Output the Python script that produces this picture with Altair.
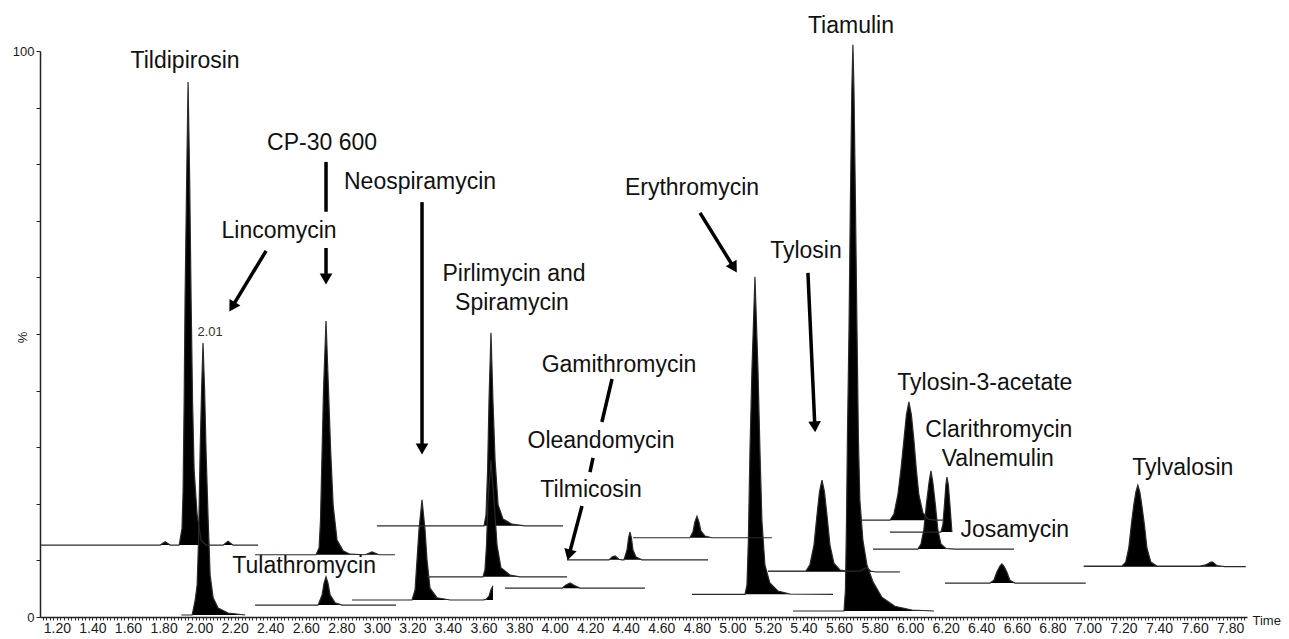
import altair as alt
import pandas as pd

# ---------------- traces (time in min, intensity in %) ----------------
tildipirosin_t = [1.106, 1.781, 1.809, 1.837, 1.888, 1.904, 1.910, 1.916, 1.921, 1.930, 1.938, 1.947, 1.955, 1.963, 1.972, 1.989, 2.011, 2.039, 2.135, 2.163, 2.191, 2.332]
tildipirosin_v = [12.7, 12.7, 13.3, 12.7, 12.7, 15.7, 22.4, 38.3, 56.0, 77.2, 94.5, 77.2, 56.0, 38.3, 26.0, 18.0, 13.6, 12.7, 12.7, 13.4, 12.7, 12.7]
tildipirosin_b = 12.7

lincomycin_t = [1.900, 1.961, 1.978, 1.989, 1.997, 2.006, 2.014, 2.022, 2.031, 2.039, 2.051, 2.062, 2.079, 2.107, 2.163, 2.259]
lincomycin_v = [0.35, 0.35, 3.0, 5.7, 13.6, 29.5, 40.1, 48.4, 40.1, 29.5, 17.1, 7.4, 3.4, 1.6, 0.7, 0.35]
lincomycin_b = 0.35

cp30600_t = [2.315, 2.658, 2.675, 2.683, 2.692, 2.700, 2.714, 2.728, 2.740, 2.754, 2.776, 2.810, 2.849, 2.934, 2.973, 3.012, 3.102]
cp30600_v = [11.0, 11.0, 12.2, 17.1, 29.5, 40.1, 52.3, 40.1, 29.5, 19.8, 13.6, 11.7, 11.1, 11.0, 11.5, 11.0, 11.0]
cp30600_b = 11.0

tulathromycin_t = [2.315, 2.669, 2.692, 2.703, 2.714, 2.725, 2.737, 2.765, 2.804, 3.108]
tulathromycin_v = [2.1, 2.1, 3.9, 6.0, 7.1, 6.0, 3.9, 2.5, 2.1, 2.1]
tulathromycin_b = 2.1

neospiramycin_t = [2.860, 3.198, 3.215, 3.226, 3.237, 3.254, 3.271, 3.282, 3.299, 3.339, 3.412, 3.597, 3.614, 3.631, 3.642, 3.653]
neospiramycin_v = [3.0, 3.0, 4.8, 10.1, 15.4, 20.7, 15.4, 10.1, 5.1, 3.4, 3.0, 3.0, 3.1, 3.7, 4.8, 5.5]
neospiramycin_b = 3.0

pirlimycin_t = [3.001, 3.603, 3.614, 3.623, 3.631, 3.642, 3.653, 3.665, 3.682, 3.710, 3.760, 3.833, 4.047]
pirlimycin_v = [16.1, 16.1, 18.0, 26.0, 38.3, 50.2, 38.3, 27.7, 19.8, 17.3, 16.4, 16.1, 16.1]
pirlimycin_b = 16.1

spiramycin_t = [3.282, 3.597, 3.608, 3.617, 3.625, 3.642, 3.659, 3.676, 3.698, 3.749, 3.805, 4.070]
spiramycin_v = [7.1, 7.1, 8.3, 12.7, 20.7, 27.7, 20.7, 12.7, 8.7, 7.4, 7.1, 7.1]
spiramycin_b = 7.1

tilmicosin_t = [3.721, 4.042, 4.064, 4.087, 4.109, 4.143, 4.508]
tilmicosin_v = [5.1, 5.1, 5.65, 6.0, 5.6, 5.1, 5.1]
tilmicosin_b = 5.1

oleandomycin_t = [4.070, 4.306, 4.323, 4.340, 4.362, 4.379, 4.390, 4.407, 4.416, 4.424, 4.432, 4.441, 4.458, 4.491, 4.863]
oleandomycin_v = [10.1, 10.1, 10.6, 10.8, 10.2, 10.1, 10.1, 11.8, 14.0, 15.0, 14.0, 11.8, 10.6, 10.1, 10.1]
oleandomycin_b = 10.1

gamithromycin_t = [4.441, 4.761, 4.778, 4.789, 4.801, 4.812, 4.823, 4.846, 4.885, 5.222]
gamithromycin_v = [14.0, 14.0, 15.0, 16.8, 17.8, 16.8, 15.2, 14.3, 14.0, 14.0]
gamithromycin_b = 14.0

erythromycin_t = [4.773, 5.071, 5.082, 5.090, 5.099, 5.110, 5.127, 5.144, 5.155, 5.166, 5.183, 5.211, 5.256, 5.324, 5.566]
erythromycin_v = [4.0, 4.0, 5.65, 13.6, 29.5, 43.6, 60.1, 43.6, 29.5, 17.1, 9.2, 6.0, 4.6, 4.06, 4.0]
erythromycin_b = 4.0

tylosin_t = [5.200, 5.414, 5.436, 5.459, 5.476, 5.490, 5.504, 5.518, 5.532, 5.549, 5.571, 5.605, 5.650, 5.717, 5.740, 5.757, 5.779, 5.808, 5.942]
tylosin_v = [8.1, 8.1, 9.2, 12.7, 18.0, 22.1, 24.2, 22.1, 18.0, 12.7, 9.5, 8.3, 8.1, 8.1, 8.5, 8.7, 8.1, 7.95, 7.95]
tylosin_b = 8.0

tiamulin_t = [5.341, 5.628, 5.636, 5.642, 5.647, 5.656, 5.664, 5.672, 5.678, 5.684, 5.692, 5.701, 5.709, 5.717, 5.734, 5.757, 5.791, 5.841, 5.914, 6.010, 6.134]
tiamulin_v = [1.06, 1.06, 4.8, 17.1, 31.3, 50.7, 73.7, 93.1, 101.1, 93.1, 73.7, 50.7, 31.3, 20.7, 13.6, 9.2, 6.2, 3.5, 1.9, 1.24, 1.06]
tiamulin_b = 1.06

tylosin3ac_t = [5.717, 5.886, 5.909, 5.931, 5.948, 5.965, 5.979, 5.993, 6.007, 6.021, 6.035, 6.049, 6.072, 6.100, 6.139, 6.184]
tylosin3ac_v = [17.1, 17.1, 18.2, 21.6, 26.0, 31.3, 35.7, 38.0, 35.7, 31.3, 26.0, 21.6, 18.4, 17.3, 17.1, 17.1]
tylosin3ac_b = 17.1

clarithromycin_t = [5.791, 6.044, 6.061, 6.077, 6.091, 6.106, 6.117, 6.128, 6.142, 6.156, 6.173, 6.201, 6.252, 6.584]
clarithromycin_v = [12.0, 12.0, 12.9, 15.4, 19.8, 23.7, 25.8, 23.7, 19.8, 15.4, 12.9, 12.1, 12.0, 12.0]
clarithromycin_b = 12.0

valnemulin_t = [5.886, 6.173, 6.184, 6.193, 6.201, 6.207, 6.215, 6.224, 6.232, 6.235]
valnemulin_v = [15.0, 15.0, 16.25, 19.8, 23.3, 24.7, 23.3, 19.8, 16.25, 15.0]
valnemulin_b = 15.0

josamycin_t = [6.196, 6.449, 6.471, 6.488, 6.505, 6.516, 6.527, 6.544, 6.561, 6.589, 6.988]
josamycin_v = [6.0, 6.0, 6.5, 7.95, 9.0, 9.4, 9.0, 7.95, 6.5, 6.0, 6.0]
josamycin_b = 6.0

tylvalosin_t = [6.977, 7.191, 7.213, 7.230, 7.244, 7.258, 7.270, 7.281, 7.292, 7.303, 7.318, 7.332, 7.354, 7.388, 7.630, 7.663, 7.691, 7.702, 7.725, 7.770, 7.888]
tylvalosin_v = [9.0, 9.0, 9.7, 12.2, 16.25, 19.8, 22.1, 23.3, 22.1, 19.8, 16.25, 12.2, 9.7, 9.0, 9.0, 9.2, 9.7, 9.7, 9.1, 8.9, 8.9]
tylvalosin_b = 8.9

# ---------------- annotations ----------------
label_text = ["Tildipirosin", "Tiamulin", "CP-30 600", "Lincomycin", "Neospiramycin", "Pirlimycin and",
              "Spiramycin", "Erythromycin", "Tylosin", "Gamithromycin", "Oleandomycin", "Tilmicosin",
              "Tylosin-3-acetate", "Clarithromycin", "Valnemulin", "Josamycin", "Tylvalosin", "Tulathromycin"]
label_t = [1.921, 5.667, 2.692, 2.450, 3.243, 3.772, 3.760, 4.773, 5.414, 4.362, 4.261, 4.205,
           6.420, 6.499, 6.493, 6.589, 7.534, 2.591]
label_v = [97.0, 103.2, 82.5, 67.0, 75.6, 59.4, 54.2, 74.6, 63.4, 43.3, 29.9, 21.2,
           40.1, 31.8, 26.7, 14.1, 25.1, 7.8]

rt_text = ["2.01"]
rt_t = [2.062]
rt_v = [49.7]

# arrow shafts / dashes (start -> end)
seg_t1 = [2.714, 2.714, 2.377, 3.254, 4.818, 5.425, 4.323, 4.216, 4.154]
seg_v1 = [80.4, 65.2, 64.7, 73.3, 71.4, 60.8, 42.05, 28.1, 19.6]
seg_t2 = [2.714, 2.714, 2.186, 3.254, 5.009, 5.464, 4.266, 4.199, 4.081]
seg_v2 = [71.6, 59.7, 54.8, 29.7, 61.7, 33.6, 34.45, 25.6, 10.95]

# arrow heads (centre and direction in degrees, clockwise from "down")
head_t = [2.714, 2.186, 3.254, 5.009, 5.464, 4.081]
head_v = [59.7, 54.8, 29.7, 61.7, 33.6, 10.95]
head_angle = [0, 31, 0, 329, 357, 15]

# axis ticks
x_major = [1.2, 1.4, 1.6, 1.8, 2.0, 2.2, 2.4, 2.6, 2.8, 3.0, 3.2, 3.4, 3.6, 3.8, 4.0, 4.2, 4.4,
           4.6, 4.8, 5.0, 5.2, 5.4, 5.6, 5.8, 6.0, 6.2, 6.4, 6.6, 6.8, 7.0, 7.2, 7.4, 7.6, 7.8]
x_minor = [round(1.12 + 0.02 * i, 2) for i in range(339)]
y_ticks = [0, 10, 20, 30, 40, 50, 60, 70, 80, 90, 100]

# ---------------- build tables ----------------
traces = [
    ("Tildipirosin", tildipirosin_t, tildipirosin_v, tildipirosin_b),
    ("Lincomycin", lincomycin_t, lincomycin_v, lincomycin_b),
    ("CP-30 600", cp30600_t, cp30600_v, cp30600_b),
    ("Tulathromycin", tulathromycin_t, tulathromycin_v, tulathromycin_b),
    ("Neospiramycin", neospiramycin_t, neospiramycin_v, neospiramycin_b),
    ("Pirlimycin", pirlimycin_t, pirlimycin_v, pirlimycin_b),
    ("Spiramycin", spiramycin_t, spiramycin_v, spiramycin_b),
    ("Tilmicosin", tilmicosin_t, tilmicosin_v, tilmicosin_b),
    ("Oleandomycin", oleandomycin_t, oleandomycin_v, oleandomycin_b),
    ("Gamithromycin", gamithromycin_t, gamithromycin_v, gamithromycin_b),
    ("Erythromycin", erythromycin_t, erythromycin_v, erythromycin_b),
    ("Tylosin", tylosin_t, tylosin_v, tylosin_b),
    ("Tiamulin", tiamulin_t, tiamulin_v, tiamulin_b),
    ("Tylosin-3-acetate", tylosin3ac_t, tylosin3ac_v, tylosin3ac_b),
    ("Clarithromycin", clarithromycin_t, clarithromycin_v, clarithromycin_b),
    ("Valnemulin", valnemulin_t, valnemulin_v, valnemulin_b),
    ("Josamycin", josamycin_t, josamycin_v, josamycin_b),
    ("Tylvalosin", tylvalosin_t, tylvalosin_v, tylvalosin_b),
]
rows = []
for name, ts, vs, b in traces:
    for t, v in zip(ts, vs):
        rows.append({"trace": name, "t": t, "v": v, "b": b})
df = pd.DataFrame(rows)

labels_df = pd.DataFrame({"text": label_text, "t": label_t, "v": label_v})
rt_df = pd.DataFrame({"text": rt_text, "t": rt_t, "v": rt_v})
seg_df = pd.DataFrame({"t1": seg_t1, "v1": seg_v1, "t2": seg_t2, "v2": seg_v2})
head_df = pd.DataFrame({"t": head_t, "v": head_v, "ang": head_angle})

FONT = "Liberation Sans"
xs = alt.Scale(domain=[1.105, 7.895], nice=False, zero=False)
ys = alt.Scale(domain=[0, 100], nice=False, zero=False)

x_axis = alt.Axis(
    values=x_minor, tickCount=1000,
    labelExpr="abs(datum.value * 5 - round(datum.value * 5)) < 0.001 ? format(datum.value, '.2f') : ''",
    labelOverlap=False, labelFlush=False, labelFont=FONT, labelFontSize=14, labelColor="#1a1a1a",
    labelPadding=1, tickSize=3, tickColor="#333", tickWidth=1, domainColor="#222", domainWidth=1.5,
    grid=False, title="Time", titleFont=FONT, titleFontSize=13, titleFontWeight="normal",
    titleColor="#1a1a1a", titleX=1212, titleY=3, titleAlign="left", titleBaseline="middle", titleAngle=0,
)
y_axis = alt.Axis(
    values=y_ticks, tickCount=20,
    labelExpr="datum.value == 0 || datum.value == 100 ? datum.label : ''",
    labelOverlap=False, labelFlush=False, labelFont=FONT, labelFontSize=13, labelColor="#1a1a1a",
    labelPadding=2, tickSize=4, tickColor="#222", tickWidth=1, domainColor="#222", domainWidth=1.5,
    grid=False, title="%", titleFont=FONT, titleFontSize=13, titleFontWeight="normal", titleColor="#1a1a1a",
    titleX=-18, titleY=286, titleAngle=270, titleAlign="center", titleBaseline="middle",
)

base = alt.Chart(df)
area = base.mark_area(color="black", interpolate="linear", clip=False).encode(
    x=alt.X("t:Q", scale=xs, axis=x_axis),
    y=alt.Y("v:Q", scale=ys, axis=y_axis),
    y2="b:Q",
    detail="trace:N",
)
line = base.mark_line(color="#2a2a2a", strokeWidth=1.2, interpolate="linear", clip=False).encode(
    x=alt.X("t:Q", scale=xs),
    y=alt.Y("v:Q", scale=ys),
    detail="trace:N",
)
segs = alt.Chart(seg_df).mark_rule(color="black", strokeWidth=3.5, strokeCap="butt").encode(
    x=alt.X("t1:Q", scale=xs), y=alt.Y("v1:Q", scale=ys), x2="t2:Q", y2="v2:Q"
)
heads = alt.Chart(head_df).mark_point(shape="triangle-down", filled=True, color="black", size=160, opacity=1).encode(
    x=alt.X("t:Q", scale=xs), y=alt.Y("v:Q", scale=ys), angle=alt.Angle("ang:Q", scale=None)
)
labels = alt.Chart(labels_df).mark_text(font=FONT, fontSize=23, color="#111", align="center", baseline="alphabetic").encode(
    x=alt.X("t:Q", scale=xs), y=alt.Y("v:Q", scale=ys), text="text:N"
)
rt = alt.Chart(rt_df).mark_text(font=FONT, fontSize=13, color="#333", align="center", baseline="alphabetic").encode(
    x=alt.X("t:Q", scale=xs), y=alt.Y("v:Q", scale=ys), text="text:N"
)

chart = alt.layer(area, line, segs, heads, labels, rt).properties(
    width=1207, height=566,
    padding={"left": 32, "top": 43, "right": 34, "bottom": 18},
    autosize=alt.AutoSizeParams(type="none"),
).configure_view(strokeWidth=0)

chart.save("out.html", embed_options={"renderer": "svg", "actions": False})
